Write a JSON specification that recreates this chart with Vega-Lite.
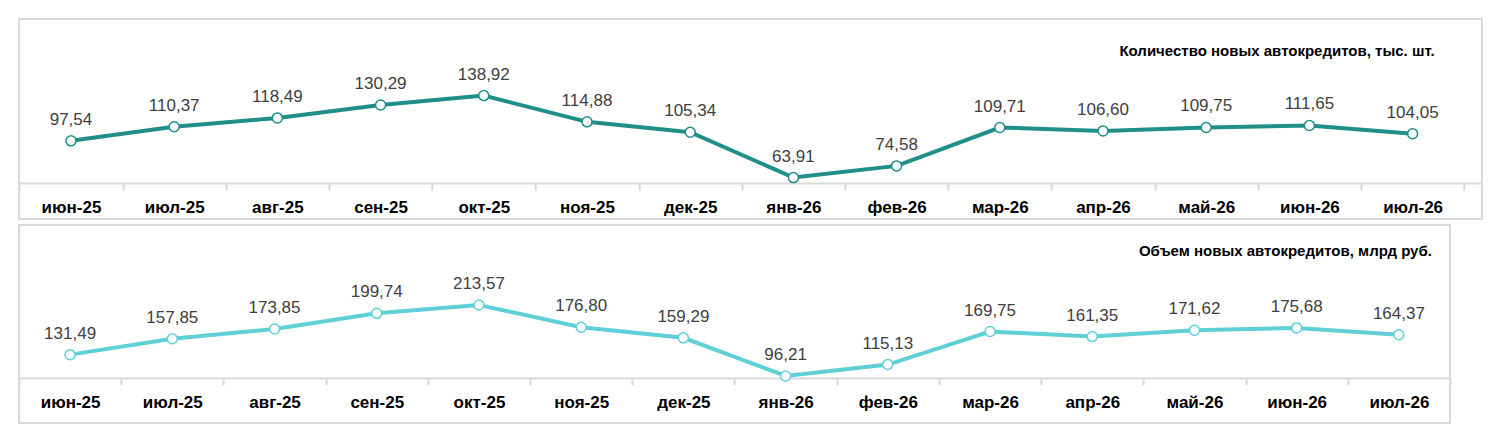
{
  "$schema": "https://vega.github.io/schema/vega-lite/v6.json",
  "padding": {"left": 17, "top": 18, "right": 0, "bottom": 0},
  "background": "white",
  "config": {
    "font": "Liberation Sans",
    "view": {"stroke": "#d9d9d9", "strokeWidth": 2},
    "concat": {"spacing": 4}
  },
  "datasets": {
    "cnt": [
      {"m": "июн-25", "v": 97.54, "t": "97,54"},
      {"m": "июл-25", "v": 110.37, "t": "110,37"},
      {"m": "авг-25", "v": 118.49, "t": "118,49"},
      {"m": "сен-25", "v": 130.29, "t": "130,29"},
      {"m": "окт-25", "v": 138.92, "t": "138,92"},
      {"m": "ноя-25", "v": 114.88, "t": "114,88"},
      {"m": "дек-25", "v": 105.34, "t": "105,34"},
      {"m": "янв-26", "v": 63.91, "t": "63,91"},
      {"m": "фев-26", "v": 74.58, "t": "74,58"},
      {"m": "мар-26", "v": 109.71, "t": "109,71"},
      {"m": "апр-26", "v": 106.60, "t": "106,60"},
      {"m": "май-26", "v": 109.75, "t": "109,75"},
      {"m": "июн-26", "v": 111.65, "t": "111,65"},
      {"m": "июл-26", "v": 104.05, "t": "104,05"}
    ],
    "vol": [
      {"m": "июн-25", "v": 131.49, "t": "131,49"},
      {"m": "июл-25", "v": 157.85, "t": "157,85"},
      {"m": "авг-25", "v": 173.85, "t": "173,85"},
      {"m": "сен-25", "v": 199.74, "t": "199,74"},
      {"m": "окт-25", "v": 213.57, "t": "213,57"},
      {"m": "ноя-25", "v": 176.80, "t": "176,80"},
      {"m": "дек-25", "v": 159.29, "t": "159,29"},
      {"m": "янв-26", "v": 96.21, "t": "96,21"},
      {"m": "фев-26", "v": 115.13, "t": "115,13"},
      {"m": "мар-26", "v": 169.75, "t": "169,75"},
      {"m": "апр-26", "v": 161.35, "t": "161,35"},
      {"m": "май-26", "v": 171.62, "t": "171,62"},
      {"m": "июн-26", "v": 175.68, "t": "175,68"},
      {"m": "июл-26", "v": 164.37, "t": "164,37"}
    ]
  },
  "vconcat": [
    {
      "width": 1463,
      "height": 200,
      "data": {"name": "cnt"},
      "encoding": {
        "x": {
          "field": "m", "type": "ordinal", "sort": null, "title": null,
          "scale": {"paddingInner": 0, "paddingOuter": 0.088, "align": 0.02},
          "axis": {"offset": -36, "labelAngle": 0, "labelFontSize": 17, "labelFontWeight": "bold", "labelColor": "black", "labelPadding": 9,
            "domainColor": "#d9d9d9", "domainWidth": 2, "tickColor": "#d9d9d9", "tickWidth": 2, "tickSize": 7, "tickBand": "extent"}
        },
        "y": {"field": "v", "type": "quantitative", "scale": {"domain": [26, 209], "nice": false, "zero": false}, "axis": null}
      },
      "layer": [
        {"mark": {"type": "line", "color": "#1f8f88", "strokeWidth": 4}},
        {"mark": {"type": "point", "filled": true, "fill": "white", "stroke": "#1f8f88", "strokeWidth": 1.5, "size": 100, "opacity": 1}},
        {"mark": {"type": "text", "dy": -21, "fontSize": 17, "color": "#404040"}, "encoding": {"text": {"field": "t"}}},
        {
          "transform": [{"filter": "datum.m == 'июл-26'"}],
          "mark": {"type": "text", "align": "right", "dx": 22, "fontSize": 15, "fontWeight": "bold", "color": "black"},
          "encoding": {"y": {"datum": 180}, "text": {"value": "Количество новых автокредитов, тыс. шт."}}
        }
      ]
    },
    {
      "width": 1431,
      "height": 198,
      "data": {"name": "vol"},
      "encoding": {
        "x": {
          "field": "m", "type": "ordinal", "sort": null, "title": null,
          "scale": {"paddingInner": 0, "paddingOuter": 0},
          "axis": {"offset": -45, "labelAngle": 0, "labelFontSize": 17, "labelFontWeight": "bold", "labelColor": "black", "labelPadding": 9,
            "domainColor": "#d9d9d9", "domainWidth": 2, "tickColor": "#d9d9d9", "tickWidth": 2, "tickSize": 7, "tickBand": "extent"}
        },
        "y": {"field": "v", "type": "quantitative", "scale": {"domain": [18.5, 345.8], "nice": false, "zero": false}, "axis": null}
      },
      "layer": [
        {"mark": {"type": "line", "color": "#5fd0d8", "strokeWidth": 4}},
        {"mark": {"type": "point", "filled": true, "fill": "white", "stroke": "#5fd0d8", "strokeWidth": 1.5, "size": 100, "opacity": 1}},
        {"mark": {"type": "text", "dy": -21, "fontSize": 17, "color": "#404040"}, "encoding": {"text": {"field": "t"}}},
        {
          "transform": [{"filter": "datum.m == 'июл-26'"}],
          "mark": {"type": "text", "align": "right", "dx": 33, "fontSize": 15, "fontWeight": "bold", "color": "black"},
          "encoding": {"y": {"datum": 303}, "text": {"value": "Объем новых автокредитов, млрд руб."}}
        }
      ]
    }
  ]
}
